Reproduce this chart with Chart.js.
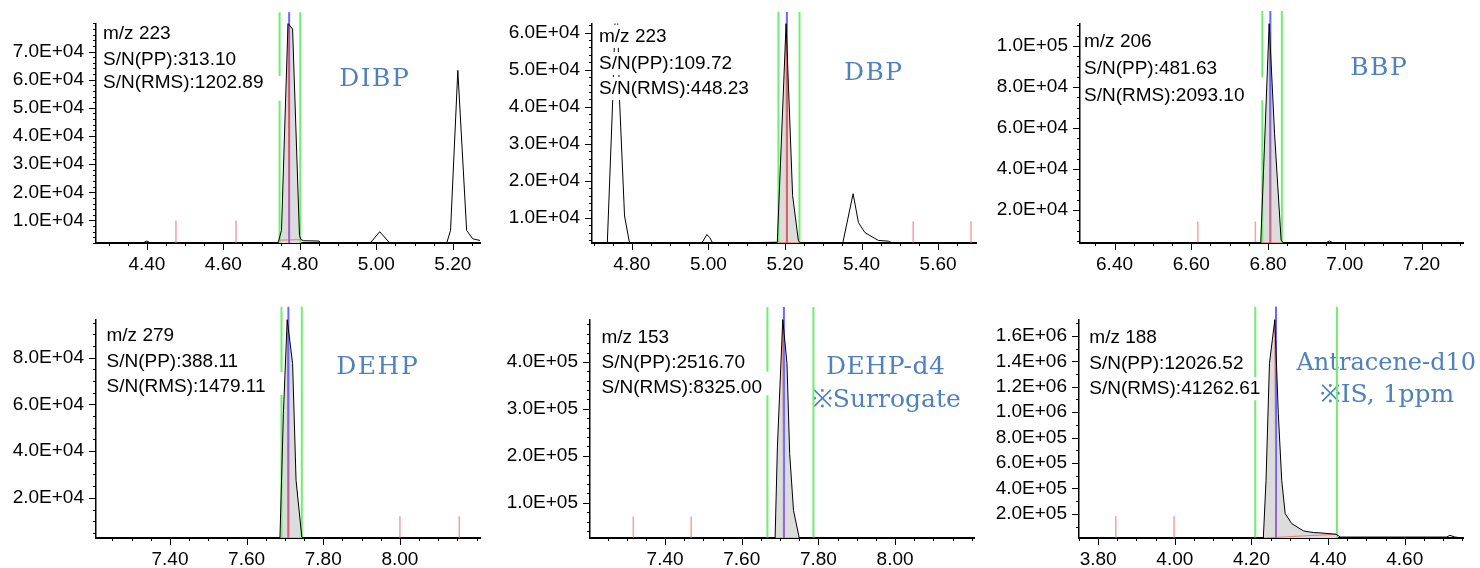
<!DOCTYPE html>
<html lang="en">
<head>
<meta charset="UTF-8">
<title>SIM chromatograms - phthalates</title>
<script src="https://cdn.jsdelivr.net/npm/chart.js"></script>
<style>
  body { margin: 0; background: #fff; width: 1480px; height: 568px; overflow: hidden; position: relative; }
  canvas { position: absolute; }
</style>
</head>
<body>
<script>
// ---- data (retention time in min, abundance) ----
const dibpRt    = [4.267, 4.390, 4.400, 4.410, 4.742, 4.745, 4.752, 4.769, 4.781, 4.799, 4.803, 4.810, 4.850, 4.855, 4.984, 5.009, 5.035, 5.184, 5.194, 5.213, 5.236, 5.252, 5.271];
const dibpAbund = [2000, 2000, 2700, 2000, 2000, 3000, 6500, 80000, 78000, 4700, 3200, 2800, 2700, 2000, 2000, 6000, 2000, 2000, 6500, 63300, 6500, 3500, 2900];

const dbpRt    = [4.696, 4.736, 4.750, 4.760, 4.768, 4.781, 4.794, 4.983, 4.996, 5.004, 5.011, 5.180, 5.203, 5.220, 5.235, 5.240, 5.351, 5.378, 5.392, 5.409, 5.422, 5.444, 5.470, 5.480, 5.699];
const dbpAbund = [3200, 3200, 41600, 76000, 41600, 10500, 3200, 3200, 5500, 4600, 3200, 3400, 62500, 16000, 3900, 3200, 3200, 16500, 8700, 6000, 5200, 3900, 3700, 3200, 3200];

const bbpRt    = [6.310, 6.781, 6.803, 6.817, 6.834, 6.840, 6.950, 6.960, 6.970, 7.308];
const bbpAbund = [4000, 4200, 111000, 57200, 5400, 4000, 4000, 5000, 4000, 4000];

const dehpRt    = [7.207, 7.687, 7.696, 7.706, 7.720, 7.729, 7.744, 7.750, 8.209];
const dehpAbund = [2800, 2800, 56100, 96400, 77500, 27500, 3200, 2800, 2800];

const dehpD4Rt    = [7.204, 7.687, 7.693, 7.707, 7.718, 7.725, 7.735, 7.750, 8.206];
const dehpD4Abund = [25000, 25000, 219000, 490600, 397000, 205000, 84000, 25000, 25000];

const anthRt    = [3.750, 4.231, 4.238, 4.247, 4.261, 4.270, 4.279, 4.288, 4.305, 4.336, 4.362, 4.379, 4.421, 4.432, 4.709, 4.718, 4.731, 4.752];
const anthAbund = [9500, 9500, 464000, 1384000, 1730000, 990000, 464000, 202000, 123000, 65000, 52000, 50000, 39000, 17000, 17000, 30000, 17000, 9500];

// integration window, RT window (green), apex RT (blue), reference marks (red)
const integWin  = [[4.745, 4.803], [5.180, 5.240], [6.781, 6.840], [7.687, 7.750], [7.687, 7.750], [4.231, 4.421]];
const greenRt   = [[4.747, 4.801], [5.183, 5.238], [6.785, 6.836], [7.691, 7.744], [7.667, 7.787], [4.210, 4.423]];
const greenGap  = [[52500, 61300], null, [73500, 84700], [64000, 73900], [329000, 379000], null];
const blueRt    = [4.772, 5.205, 6.806, 7.709, 7.710, 4.264];
const lineTop   = [84000, 65600, 117000, 101800, 517000, 1830000];
const markRt    = [[4.476, 4.633], [5.535, 5.686], [6.617, 6.767], [8.000, 8.155], [7.317, 7.468], [3.846, 3.998]];
const markTop   = [10000, 9100, 14500, 12100, 71000, 180000];

// axes
const xRange = [[4.267, 5.271], [4.696, 5.699], [6.310, 7.308], [7.207, 8.209], [7.204, 8.206], [3.750, 4.752]];
const yRange = [[2000, 80000], [3200, 62500], [4000, 111000], [2800, 96400], [25000, 490600], [9500, 1730000]];
const xTicks = [
  [4.40, 4.60, 4.80, 5.00, 5.20],
  [4.80, 5.00, 5.20, 5.40, 5.60],
  [6.40, 6.60, 6.80, 7.00, 7.20],
  [7.40, 7.60, 7.80, 8.00],
  [7.40, 7.60, 7.80, 8.00],
  [3.80, 4.00, 4.20, 4.40, 4.60]
];
const yTicks = [
  [10000, 20000, 30000, 40000, 50000, 60000, 70000],
  [10000, 20000, 30000, 40000, 50000, 60000],
  [20000, 40000, 60000, 80000, 100000],
  [20000, 40000, 60000, 80000],
  [100000, 200000, 300000, 400000],
  [200000, 400000, 600000, 800000, 1000000, 1200000, 1400000, 1600000]
];
const yMinorStep = [2000, 2000, 5000, 5000, 20000, 100000];
const xMinorStep = 0.05;

// annotations
const infoText = [
  ['m/z 223', 'S/N(PP):313.10', 'S/N(RMS):1202.89'],
  ['m/z 223', 'S/N(PP):109.72', 'S/N(RMS):448.23'],
  ['m/z 206', 'S/N(PP):481.63', 'S/N(RMS):2093.10'],
  ['m/z 279', 'S/N(PP):388.11', 'S/N(RMS):1479.11'],
  ['m/z 153', 'S/N(PP):2516.70', 'S/N(RMS):8325.00'],
  ['m/z 188', 'S/N(PP):12026.52', 'S/N(RMS):41262.61']
];
const compoundName = [['DIBP'], ['DBP'], ['BBP'], ['DEHP'], ['DEHP-d4', '※Surrogate'], ['Antracene-d10', '※IS, 1ppm']];

// ---- page layout: plot area box [left, top, right, bottom] and text offsets ----
// name entries: [dx, dy, font size, letter spacing]
const layout = [
  { box: [96, 23, 480, 243],     info: [7, [10, 36, 59.5]],        name: [[278, 56, 25, 1.5]] },
  { box: [592, 23, 976, 243],    info: [7, [13, 40, 65]],          name: [[281, 50, 25, 1.5]] },
  { box: [1080, 23, 1463, 243],  info: [4, [18.7, 45, 72]],        name: [[298.5, 45.3, 25, 1.5]] },
  { box: [96, 319, 480, 538],    info: [10.5, [16, 42, 67]],       name: [[281, 48.3, 25, 1.5]] },
  { box: [590, 319, 974, 538],   info: [11.5, [18.3, 43.7, 68.7]], name: [[295.5, 48.3, 25, 0.5], [296.3, 81, 25, 0]] },
  { box: [1079, 319, 1463, 538], info: [10.3, [18.3, 44.3, 69.3]], name: [[307.3, 44.3, 24, 0], [308, 76, 25, 0]] }
];
const W_Y = 95, H_X = 30, PAD_T = 23, PAD_R = 18;
const SANS = "'Liberation Sans', Arial, sans-serif";

const traces = [[dibpRt, dibpAbund], [dbpRt, dbpAbund], [bbpRt, bbpAbund], [dehpRt, dehpAbund], [dehpD4Rt, dehpD4Abund], [anthRt, anthAbund]];

function sci(v) {
  const [m, e] = v.toExponential(1).toUpperCase().split('E');
  const n = Number(e);
  return m + 'E' + (n < 0 ? '-' : '+') + String(Math.abs(n)).padStart(2, '0');
}

function buildDatasets(k) {
  const [rt, ab] = traces[k];
  const pts = rt.map((x, i) => ({ x, y: ab[i] }));
  const peak = pts.filter(d => d.x >= integWin[k][0] - 1e-9 && d.x <= integWin[k][1] + 1e-9);
  const apex = peak.reduce((a, b) => (b.y > a.y ? b : a));
  const y0 = yRange[k][0];
  const top = lineTop[k];

  const green = [];
  greenRt[k].forEach((g, i) => {
    if (i > 0) green.push({ x: g, y: null });
    if (i === 0 && greenGap[k]) {
      green.push({ x: g, y: y0 }, { x: g, y: greenGap[k][0] }, { x: g, y: null },
                 { x: g, y: greenGap[k][1] }, { x: g, y: top });
    } else {
      green.push({ x: g, y: y0 }, { x: g, y: top });
    }
  });
  const marks = [];
  markRt[k].forEach((m, i) => {
    if (i > 0) marks.push({ x: m, y: null });
    marks.push({ x: m, y: y0 }, { x: m, y: markTop[k] });
  });

  return [
    { data: pts, borderColor: '#000', borderWidth: 1 },
    { data: [apex, { x: blueRt[k], y: y0 }], borderColor: 'rgb(232,96,96)', borderWidth: 1 },
    { data: [{ x: blueRt[k], y: y0 }, { x: blueRt[k], y: top }], borderColor: 'rgb(104,104,255)', borderWidth: 2, clip: false },
    { data: [peak[0], peak[peak.length - 1]], borderColor: 'rgb(240,120,120)', borderWidth: 1 },
    { data: green, borderColor: 'rgb(112,238,112)', borderWidth: 2, clip: false },
    { data: marks, borderColor: 'rgb(246,160,160)', borderWidth: 1.5 },
    { data: peak, borderWidth: 0, borderColor: 'rgba(0,0,0,0)', backgroundColor: 'rgb(220,220,220)', fill: 'start' }
  ];
}

function decor(k) {
  const lay = layout[k];
  return {
    id: 'decor' + k,
    beforeDatasetsDraw(chart) {
      const { ctx, chartArea: a } = chart;
      ctx.save();
      ctx.fillStyle = '#4f81bd';
      ctx.textAlign = 'center';
      ctx.textBaseline = 'middle';
      compoundName[k].forEach((t, i) => {
        const [dx, dy, size, sp] = lay.name[i];
        ctx.font = size + "px 'DejaVu Serif', serif";
        ctx.letterSpacing = sp + 'px';
        ctx.fillText(t, a.left + dx + sp / 2, a.top + dy);
      });
      ctx.restore();
    },
    afterDatasetsDraw(chart) {
      const { ctx, chartArea: a } = chart;
      ctx.save();
      ctx.font = '19px ' + SANS;
      ctx.textAlign = 'left';
      ctx.textBaseline = 'middle';
      infoText[k].forEach((t, i) => {
        const x = a.left + lay.info[0];
        const y = a.top + lay.info[1][i];
        const w = ctx.measureText(t).width;
        ctx.fillStyle = '#fff';
        ctx.fillRect(x - 1, y - 11.5, w + 2, 23);
        ctx.fillStyle = '#000';
        ctx.fillText(t, x, y);
      });
      ctx.restore();
    },
    afterDraw(chart) {
      // major / minor tick marks on both axes
      const { ctx, chartArea: a, scales: { x, y } } = chart;
      ctx.save();
      ctx.strokeStyle = '#000';
      ctx.lineWidth = 1;
      ctx.beginPath();
      const xs = xMinorStep;
      for (let i = Math.ceil(x.min / xs - 1e-6); i <= Math.floor(x.max / xs + 1e-6); i++) {
        const v = i * xs;
        const major = xTicks[k].some(m => Math.abs(m - v) < 1e-6);
        const px = Math.round(x.getPixelForValue(v)) + 0.5;
        ctx.moveTo(px, a.bottom);
        ctx.lineTo(px, a.bottom + (major ? 7 : 3));
      }
      const ys = yMinorStep[k];
      for (let i = Math.ceil(y.min / ys - 1e-6); i <= Math.floor(y.max / ys + 1e-6); i++) {
        const v = i * ys;
        const major = yTicks[k].some(m => Math.abs(m - v) < 1e-3);
        const py = Math.round(y.getPixelForValue(v)) + 0.5;
        ctx.moveTo(a.left, py);
        ctx.lineTo(a.left - (major ? 7 : 3), py);
      }
      ctx.stroke();
      ctx.restore();
    }
  };
}

layout.forEach((lay, k) => {
  const [L, T, R, B] = lay.box;
  const cv = document.createElement('canvas');
  cv.width = R - L + W_Y + PAD_R;
  cv.height = B - T + PAD_T + H_X;
  cv.style.left = (L - W_Y) + 'px';
  cv.style.top = (T - PAD_T) + 'px';
  document.body.appendChild(cv);

  new Chart(cv.getContext('2d'), {
    type: 'line',
    data: { datasets: buildDatasets(k) },
    options: {
      responsive: false,
      animation: false,
      events: [],
      layout: { padding: { top: PAD_T, right: PAD_R, left: 0, bottom: 0 } },
      elements: { point: { radius: 0 }, line: { tension: 0, fill: false } },
      spanGaps: false,
      plugins: { legend: { display: false }, tooltip: { enabled: false } },
      scales: {
        x: {
          type: 'linear', position: 'bottom', min: xRange[k][0], max: xRange[k][1],
          grid: { display: false, drawTicks: false },
          border: { display: true, color: '#000', width: 2 },
          ticks: { font: { family: SANS, size: 19 }, color: '#000', padding: 10, maxRotation: 0, autoSkip: false,
                   callback: v => Number(v).toFixed(2) },
          afterBuildTicks: s => { s.ticks = xTicks[k].map(v => ({ value: v })); },
          afterFit: s => { s.height = H_X; }
        },
        y: {
          type: 'linear', min: yRange[k][0], max: yRange[k][1],
          grid: { display: false, drawTicks: false },
          border: { display: true, color: '#000', width: 1.5 },
          ticks: { font: { family: SANS, size: 19 }, color: '#000', padding: 12, autoSkip: false,
                   callback: v => sci(v) },
          afterBuildTicks: s => { s.ticks = yTicks[k].map(v => ({ value: v })); },
          afterFit: s => { s.width = W_Y; }
        }
      }
    },
    plugins: [decor(k)]
  });
});
</script>
</body>
</html>
